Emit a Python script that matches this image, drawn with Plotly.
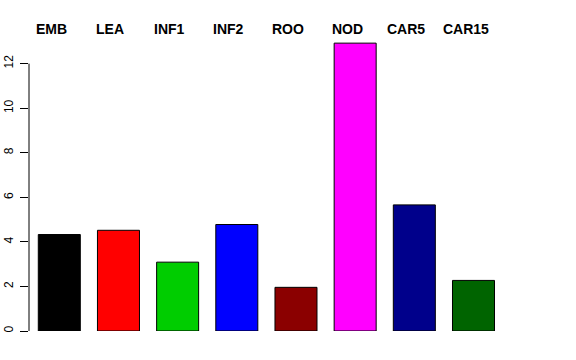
import plotly.graph_objects as go

categories = ["EMB", "LEA", "INF1", "INF2", "ROO", "NOD", "CAR5", "CAR15"]
values = [4.33, 4.52, 3.09, 4.78, 1.96, 12.92, 5.66, 2.27]
colors = ["#000000", "#FF0000", "#00CD00", "#0000FF", "#8B0000", "#FF00FF", "#00008B", "#006400"]
y_ticks = [0, 2, 4, 6, 8, 10, 12]

fig = go.Figure()
fig.add_trace(go.Bar(
    x=list(range(len(categories))),
    y=values,
    width=0.71,
    marker=dict(color=colors, line=dict(color="#000000", width=1)),
    hoverinfo="skip",
))

for i, lab in enumerate(categories):
    fig.add_annotation(
        x=i, xref="x", y=1.011, yref="paper",
        text="<b>" + lab + "</b>", showarrow=False,
        xshift=-8, yanchor="middle", xanchor="center",
        font=dict(family="Liberation Sans, Arial", size=14, color="#000000"),
    )

fig.add_shape(type="line", xref="x domain", x0=0, x1=0, yref="y",
              y0=min(y_ticks), y1=max(y_ticks), line=dict(color="#000000", width=1))

fig.update_layout(
    template="none",
    width=576, height=360,
    margin=dict(l=29, r=66.8, t=31.6, b=29, pad=0),
    paper_bgcolor="white", plot_bgcolor="white",
    showlegend=False,
    font=dict(family="Liberation Sans, Arial", size=12, color="#000000"),
    xaxis=dict(range=[-0.512, 7.6], visible=False, showgrid=False, zeroline=False,
               automargin=False),
    yaxis=dict(range=[0, 13.42], tickvals=y_ticks, ticks="outside", ticklen=8,
               tickwidth=1, tickcolor="#000000", tickangle=-90, showgrid=False,
               zeroline=False, showline=False, ticklabelstandoff=2, automargin=False,
               tickfont=dict(size=12, color="#000000")),
)

fig.write_html("out.html", config={"displayModeBar": False, "staticPlot": True},
               post_script="document.body.style.margin='0';")
